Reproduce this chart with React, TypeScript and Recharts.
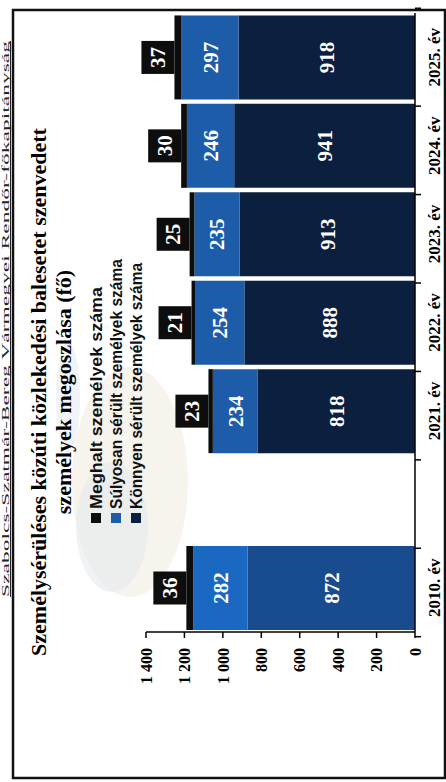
import { BarChart, Bar, XAxis, YAxis, Legend, LabelList, Cell } from "recharts";

// categories (one empty slot between 2010 and 2021, as in the original)
const years = ["2010. év", "", "2021. év", "2022. év", "2023. év", "2024. év", "2025. év"];
const konnyen = [872, null, 818, 888, 913, 941, 918];
const sulyos = [282, null, 234, 254, 235, 246, 297];
const meghalt = [36, null, 23, 21, 25, 30, 37];
const valueTicks = [0, 200, 400, 600, 800, 1000, 1200, 1400];

const legendItems = [
  { key: "meghalt", label: "Meghalt személyek száma", len: 222 },
  { key: "sulyos", label: "Súlyosan sérült személyek száma", len: 250 },
  { key: "konnyen", label: "Könnyen sérült személyek száma", len: 246 },
];

const W = 782;
const H = 446;
const PLOT_W = 685;
const BAND = PLOT_W / years.length;

const SERIF = '"Liberation Serif", "Times New Roman", serif';
const SANS = '"Liberation Sans", Arial, sans-serif';

const NAVY = "#0b1f3e";
const NAVY_2010 = "#194b8f";
const BLUE = "#1c5ca9";
const BLUE_2010 = "#1b68c2";
const BLACK = "#0d0d0d";

const colors: Record<string, string> = { meghalt: BLACK, sulyos: BLUE, konnyen: NAVY };

const data = years.map((year, i) => ({
  year,
  konnyen: konnyen[i],
  sulyos: sulyos[i],
  meghalt: meghalt[i],
}));

function fmt(v: number) {
  if (v < 1000) return String(v);
  return `${Math.floor(v / 1000)} ${String(v % 1000).padStart(3, "0")}`;
}

function YearTick(props: any) {
  const { x, y, payload, index } = props;
  return (
    <g>
      <line x1={x - BAND / 2} x2={x - BAND / 2} y1={y} y2={y + 6} stroke="#000" strokeWidth={1.5} />
      {index === years.length - 1 && (
        <line x1={x + BAND / 2} x2={x + BAND / 2} y1={y} y2={y + 6} stroke="#000" strokeWidth={1.5} />
      )}
      <text
        x={x}
        y={y + 25}
        textAnchor="middle"
        fill="#000"
        fontFamily={SERIF}
        fontWeight="bold"
        fontSize={17}
      >
        {payload.value}
      </text>
    </g>
  );
}

function DeathLabel(props: any) {
  const { x, y, width, value } = props;
  if (value == null) return null;
  const cx = x + width / 2;
  return (
    <g>
      <rect x={cx - 16.5} y={y - 33} width={33} height={33} fill={BLACK} />
      <text
        x={cx}
        y={y - 16.5}
        textAnchor="middle"
        dominantBaseline="central"
        fill="#fff"
        fontFamily={SERIF}
        fontWeight="bold"
        fontSize={21}
      >
        {value}
      </text>
    </g>
  );
}

function LegendBox() {
  return (
    <svg width={300} height={62}>
      {legendItems.map((it, i) => (
        <g key={it.key}>
          <rect x={3} y={7 + i * 20} width={10} height={10} fill={colors[it.key]} />
          <text
            x={17}
            y={17.5 + i * 20}
            fontFamily={SANS}
            fontWeight="bold"
            fontSize={17}
            fill="#111"
            textLength={it.len}
            lengthAdjust="spacingAndGlyphs"
          >
            {it.label}
          </text>
        </g>
      ))}
    </svg>
  );
}

const labelStyle = { fill: "#fff", fontFamily: SERIF, fontWeight: "bold", fontSize: 21 };

export default function App() {
  return (
    <div
      style={{
        position: "absolute",
        left: 0,
        top: 0,
        width: H,
        height: W,
        overflow: "hidden",
        background: "#fff",
      }}
    >
      <div
        style={{
          position: "absolute",
          left: 0,
          top: 0,
          width: W,
          height: H,
          transformOrigin: "0 0",
          transform: `translate(0px, ${W}px) rotate(-90deg)`,
        }}
      >
        {/* faint watermark behind the chart */}
        <svg width={W} height={H} style={{ position: "absolute", left: 0, top: 0 }}>
          <ellipse cx={300} cy={130} rx={115} ry={58} fill="#f2ece2" opacity={0.6} />
          <ellipse cx={255} cy={112} rx={65} ry={36} fill="#e2e8ee" opacity={0.5} />
          <ellipse cx={385} cy={68} rx={55} ry={12} fill="#e4eaf0" opacity={0.5} />
        </svg>
        <BarChart
          width={W}
          height={H}
          data={data}
          margin={{ top: 146, right: 13, bottom: 0, left: 24 }}
          barSize={84}
        >
          <XAxis
            dataKey="year"
            height={31}
            interval={0}
            tickLine={false}
            tickSize={0}
            tickMargin={0}
            axisLine={{ stroke: "#000", strokeWidth: 1.5 }}
            tick={<YearTick />}
          />
          <YAxis
            width={60}
            domain={[0, 1400]}
            ticks={valueTicks}
            tickFormatter={fmt}
            tickSize={6}
            tickMargin={10}
            axisLine={{ stroke: "#000", strokeWidth: 1.5 }}
            tickLine={{ stroke: "#000", strokeWidth: 1.5 }}
            tick={{ fill: "#000", fontFamily: SERIF, fontWeight: "bold", fontSize: 16 }}
          />
          <Legend
            layout="vertical"
            verticalAlign="top"
            align="left"
            wrapperStyle={{ left: 256, top: 84, width: 300 }}
            content={() => <LegendBox />}
          />
          <Bar dataKey="konnyen" stackId="a" fill={NAVY} isAnimationActive={false}>
            {data.map((d) => (
              <Cell key={d.year} fill={d.year === "2010. év" ? NAVY_2010 : NAVY} />
            ))}
            <LabelList dataKey="konnyen" position="center" {...labelStyle} />
          </Bar>
          <Bar dataKey="sulyos" stackId="a" fill={BLUE} isAnimationActive={false}>
            {data.map((d) => (
              <Cell key={d.year} fill={d.year === "2010. év" ? BLUE_2010 : BLUE} />
            ))}
            <LabelList dataKey="sulyos" position="center" {...labelStyle} />
          </Bar>
          <Bar dataKey="meghalt" stackId="a" fill={BLACK} isAnimationActive={false}>
            <LabelList dataKey="meghalt" content={<DeathLabel />} />
          </Bar>
        </BarChart>
        <svg
          width={W}
          height={H}
          style={{ position: "absolute", left: 0, top: 0, pointerEvents: "none" }}
        >
          <text
            x={463}
            y={8.5}
            textAnchor="middle"
            fontFamily={SERIF}
            fontSize={11}
            fill="#222"
            textLength={556}
            lengthAdjust="spacingAndGlyphs"
          >
            Szabolcs-Szatmár-Bereg Vármegyei Rendőr-főkapitányság
          </text>
          <line x1={185} x2={741} y1={10.5} y2={10.5} stroke="#222" strokeWidth={1} />
          <rect x={4} y={13} width={768} height={432} fill="none" stroke="#111" strokeWidth={2.5} />
          <text x={390} y={46} textAnchor="middle" fontFamily={SERIF} fontWeight="bold" fontSize={22} fill="#000">
            Személysérüléses közúti közlekedési balesetet szenvedett
          </text>
          <text x={390} y={71} textAnchor="middle" fontFamily={SERIF} fontWeight="bold" fontSize={22} fill="#000">
            személyek megoszlása (fő)
          </text>
        </svg>
      </div>
    </div>
  );
}
